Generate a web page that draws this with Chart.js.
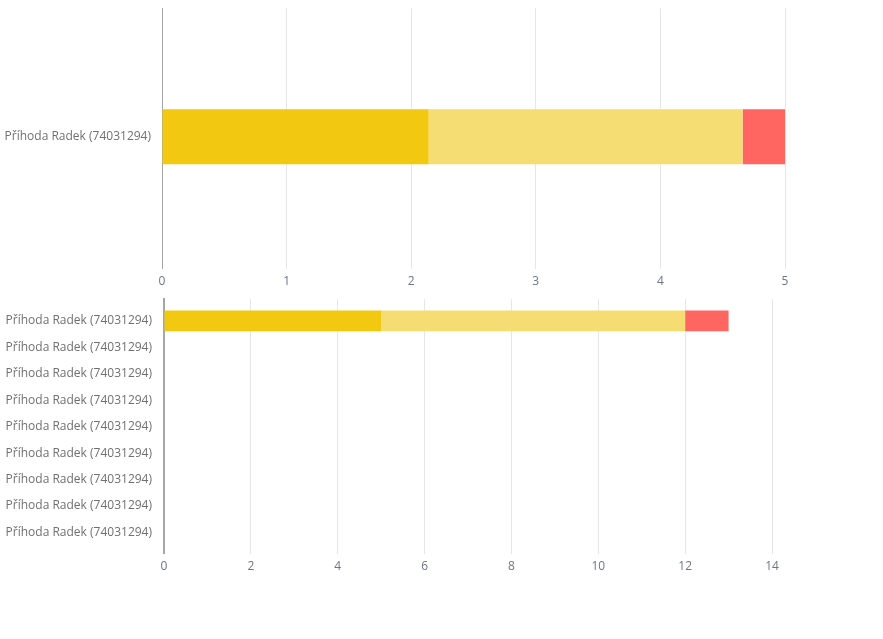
<!DOCTYPE html>
<html>
<head>
<meta charset="utf-8">
<script src="https://cdn.jsdelivr.net/npm/chart.js@4"></script>
<style>
  html, body { margin: 0; padding: 0; background: #fff; overflow: hidden; }
  #wrap1 { position: absolute; left: 0; top: -10px; width: 883px; height: 309px; }
  #wrap2 { position: absolute; left: 0; top: 280px; width: 883px; height: 304px; }
</style>
</head>
<body>
<div id="wrap1"><canvas id="c1"></canvas></div>
<div id="wrap2"><canvas id="c2"></canvas></div>
<script>
// ---- data ----
const topCategories = ['Příhoda Radek (74031294)'];
const topSeriesA = [2.14];
const topSeriesB = [2.52];
const topSeriesC = [0.34];
const topTicksMax = 5;
const topStep = 1;

const bottomCategories = [
  'Příhoda Radek (74031294)', 'Příhoda Radek (74031294)', 'Příhoda Radek (74031294)',
  'Příhoda Radek (74031294)', 'Příhoda Radek (74031294)', 'Příhoda Radek (74031294)',
  'Příhoda Radek (74031294)', 'Příhoda Radek (74031294)', 'Příhoda Radek (74031294)'
];
const bottomSeriesA = [5, null, null, null, null, null, null, null, null];
const bottomSeriesB = [7, null, null, null, null, null, null, null, null];
const bottomSeriesC = [1, null, null, null, null, null, null, null, null];
const bottomTicksMax = 14;
const bottomStep = 2;

// ---- style ----
const colA = '#F2C811';
const colB = '#F5DD74';
const colC = '#FF6561';
const FONT = "'Open Sans', 'Noto Sans', sans-serif";

Chart.defaults.font.family = FONT;
Chart.defaults.font.size = 12;
Chart.defaults.animation = false;

function datasets(a, b, c, bp, cp) {
  return [
    { data: a, backgroundColor: colA, barPercentage: bp, categoryPercentage: cp },
    { data: b, backgroundColor: colB, barPercentage: bp, categoryPercentage: cp },
    { data: c, backgroundColor: colC, barPercentage: bp, categoryPercentage: cp }
  ];
}

function opts(max, step, yWidth, labelPad, padding, extraTop, extraBottom, borderW) {
  return {
    indexAxis: 'y',
    responsive: true,
    maintainAspectRatio: false,
    layout: { padding: padding },
    plugins: { legend: { display: false }, tooltip: { enabled: false } },
    scales: {
      x: {
        stacked: true,
        min: 0, max: max,
        ticks: { stepSize: step, color: '#6b7686', padding: 6, font: { size: 12 } },
        grid: { color: '#e6e6e6', drawTicks: false, lineWidth: 1 },
        border: { display: false }
      },
      y: {
        stacked: true,
        ticks: { color: '#707070', padding: labelPad, font: { size: 12 } },
        grid: { display: false, drawTicks: false },
        border: { display: true, color: '#a6a6a6', width: borderW },
        afterFit: s => { s.width = yWidth; },
        afterBuildTicks: s => {
          s._startValue -= extraTop;
          s._valueRange += extraTop + extraBottom;
        }
      }
    }
  };
}

new Chart(document.getElementById('c1'), {
  type: 'bar',
  data: { labels: topCategories, datasets: datasets(topSeriesA, topSeriesB, topSeriesC, 0.235, 0.9) },
  options: opts(topTicksMax, topStep, 162, 11, { top: 7, right: 98, bottom: 4, left: 0 }, -0.006, 0.006, 1)
});

new Chart(document.getElementById('c2'), {
  type: 'bar',
  data: { labels: bottomCategories, datasets: datasets(bottomSeriesA, bottomSeriesB, bottomSeriesC, 0.88, 0.9) },
  options: opts(bottomTicksMax, bottomStep, 164, 12, { top: 6, right: 111, bottom: 4, left: 0 }, 0.32, 0.3, 2)
});
</script>
</body>
</html>
